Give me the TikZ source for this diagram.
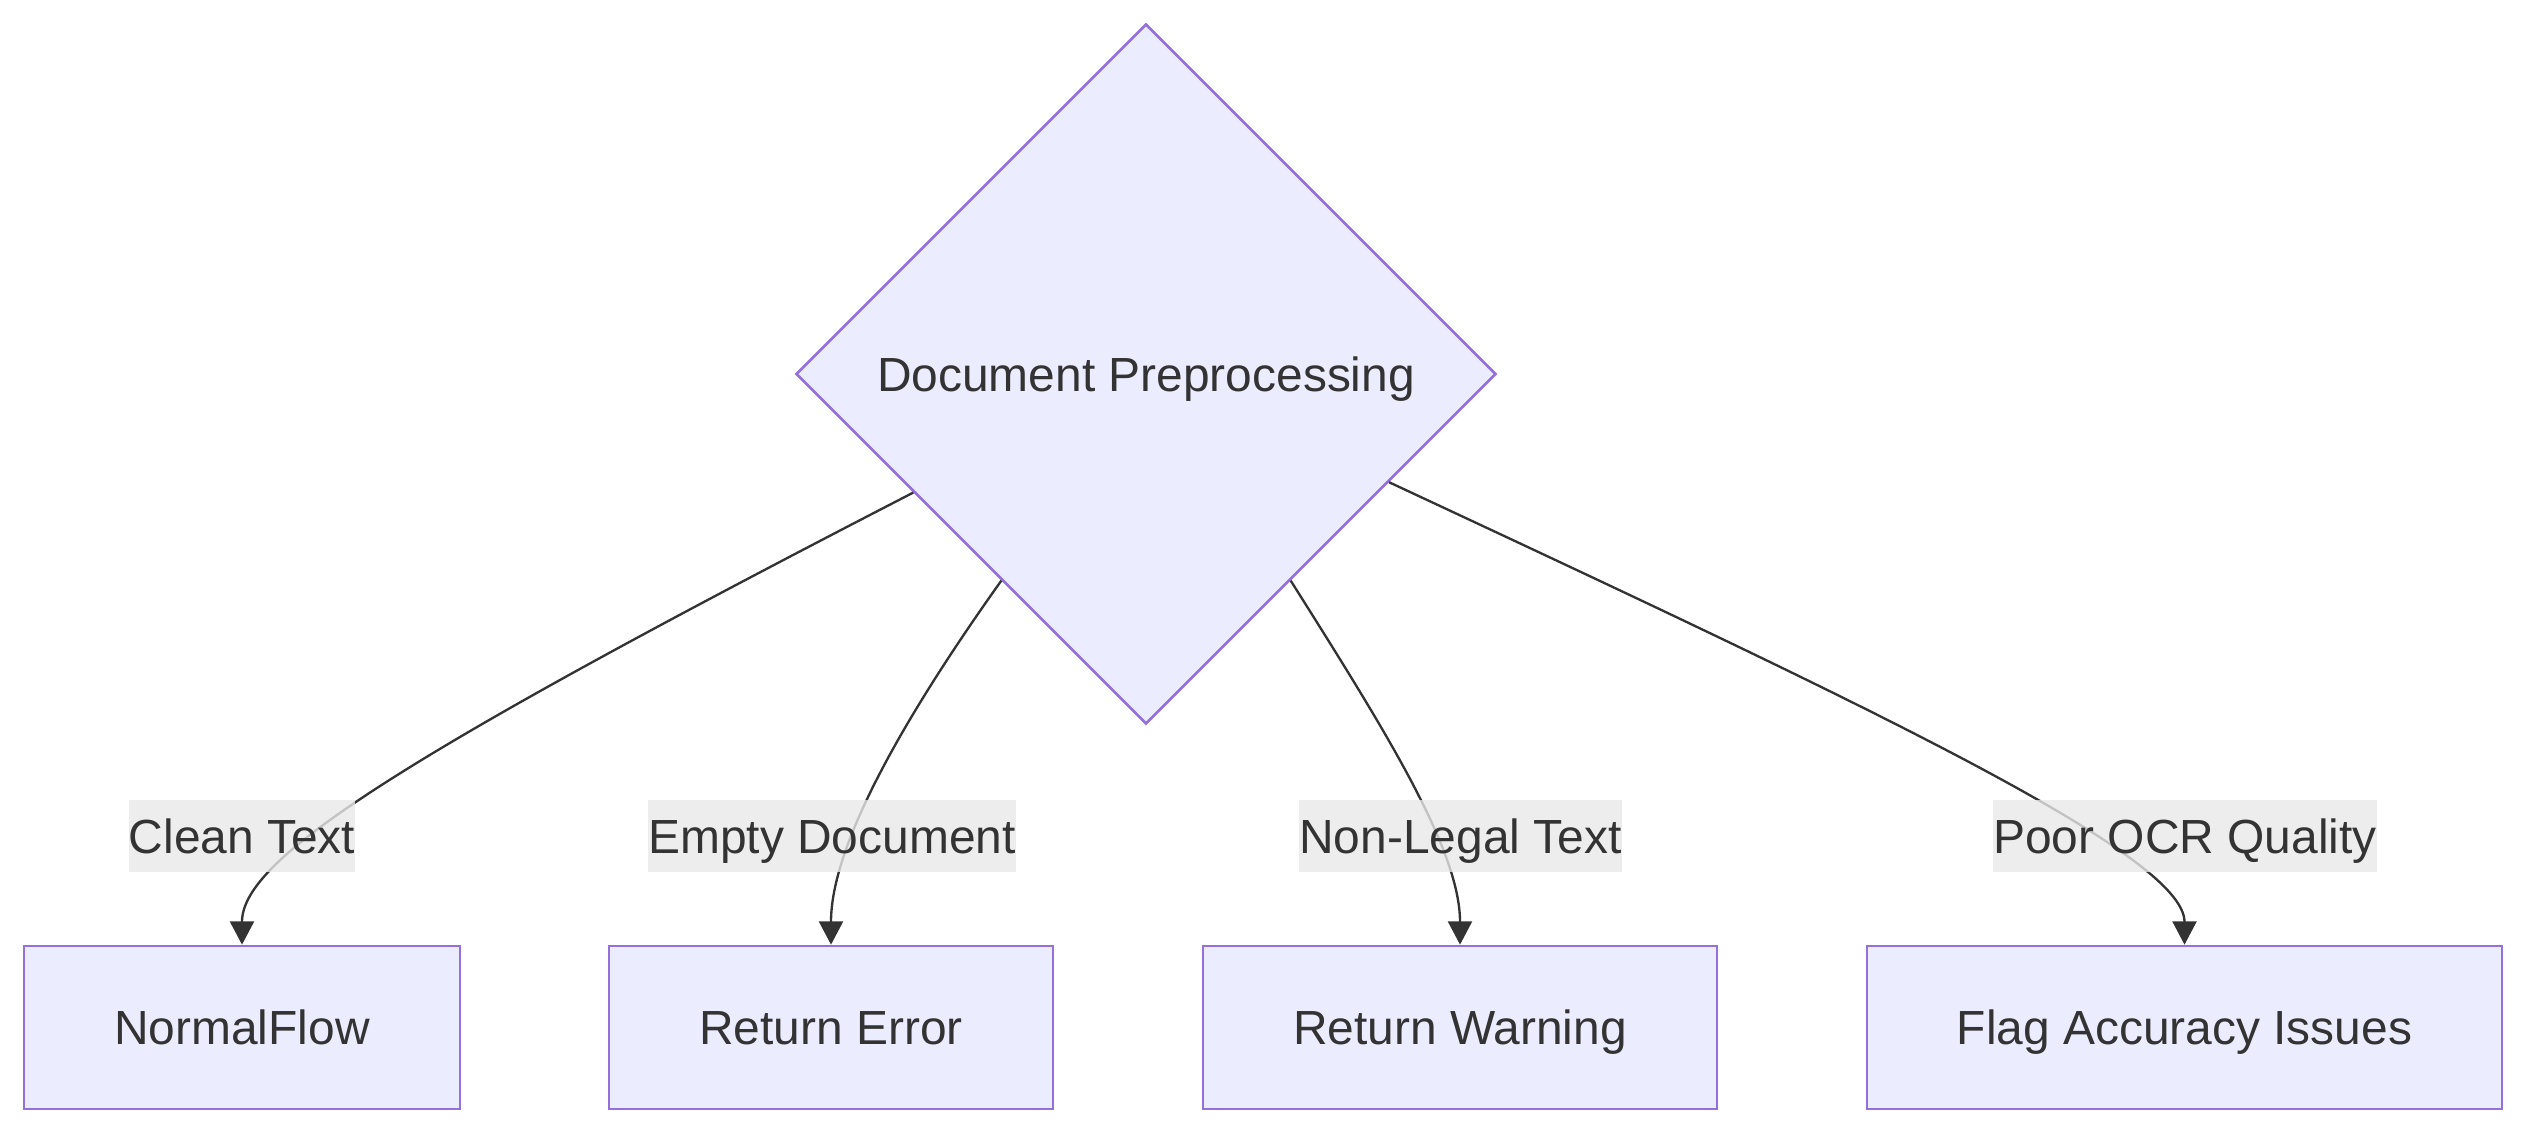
\documentclass[tikz,border=0pt]{standalone}
\usepackage{fontspec}
\setmainfont{Liberation Sans}
\usetikzlibrary{shapes.geometric,arrows.meta}
\definecolor{nodefill}{HTML}{ECECFF}
\definecolor{nodeline}{HTML}{9370DB}
\definecolor{ink}{HTML}{333333}
\definecolor{lblfill}{HTML}{E8E8E8}
\tikzset{
  x=0.3mm, y=-0.3mm,
  every node/.style={font=\fontsize{40.9pt}{49pt}\selectfont, text=ink,
    text height=29.3pt, text depth=0pt},
  decision/.style={diamond, draw=nodeline, fill=nodefill, line width=0.8mm, inner sep=0pt,
    minimum width=210mm, minimum height=210mm},
  stepbox/.style={rectangle, draw=nodeline, fill=nodefill, line width=0.8mm, inner sep=0pt,
    minimum height=48.9mm},
  edgelbl/.style={fill=lblfill, fill opacity=0.8, text opacity=1, inner xsep=0pt, inner ysep=0pt,
    minimum height=21.6mm},
  flow/.style={draw=ink, line width=0.7mm, -{Triangle[length=7mm, width=7.2mm]}},
}
\begin{document}
\begin{tikzpicture}
\useasboundingbox (0,0) rectangle (2528,1133);
\node[decision] (d) at (1146,374) {Document Preprocessing};
\node[stepbox, minimum width=130.8mm] (n1) at (242,1027.5) {NormalFlow};
\node[stepbox, minimum width=133.2mm] (n2) at (831,1027.5) {Return Error};
\node[stepbox, minimum width=154.2mm] (n3) at (1460,1027.5) {Return Warning};
\node[stepbox, minimum width=190.5mm] (n4) at (2184.5,1027.5) {Flag Accuracy Issues};

\draw[flow] (d.207.5) .. controls +(-514,265) and +(0,-86) .. (n1.north);
\draw[flow] (d.235.9) .. controls +(-104,146) and +(0,-96) .. (n2.north);
\draw[flow] (d.-55.9) .. controls +(92,146) and +(0,-96) .. (n3.north);
\draw[flow] (d.-24.3) .. controls +(480,224) and +(0,-90) .. (n4.north);

\node[edgelbl] (l1) at (242,836) {Clean Text};
\node[edgelbl] (l2) at (832,836) {Empty Document};
\node[edgelbl] (l3) at (1460.5,836) {Non-Legal Text};
\node[edgelbl] (l4) at (2185,836) {Poor OCR Quality};
\end{tikzpicture}
\end{document}
